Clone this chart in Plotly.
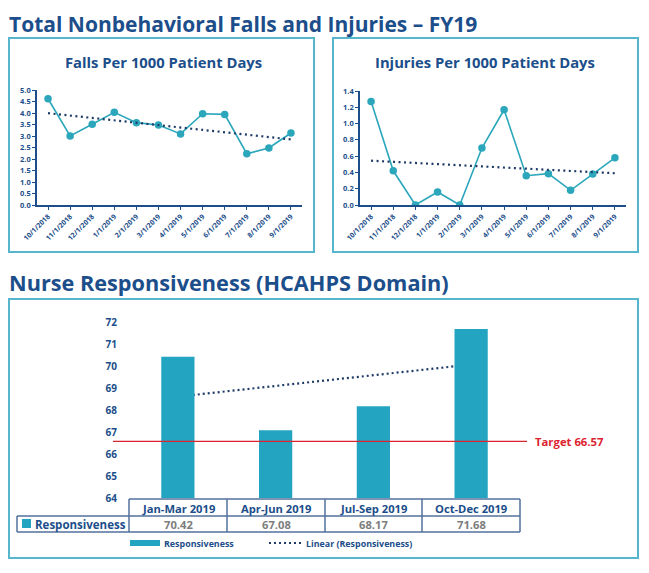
import numpy as np
import plotly.graph_objects as go

# ---------------- data ----------------
months = ["10/1/2018", "11/1/2018", "12/1/2018", "1/1/2019", "2/1/2019", "3/1/2019",
          "4/1/2019", "5/1/2019", "6/1/2019", "7/1/2019", "8/1/2019", "9/1/2019"]
falls = [4.62, 3.00, 3.51, 4.03, 3.58, 3.48, 3.09, 3.97, 3.94, 2.23, 2.48, 3.13]
injuries = [1.27, 0.42, 0.00, 0.16, 0.00, 0.70, 1.17, 0.36, 0.385, 0.18, 0.38, 0.58]
quarters = ["Jan-Mar 2019", "Apr-Jun 2019", "Jul-Sep 2019", "Oct-Dec 2019"]
responsiveness = [70.42, 67.08, 68.17, 71.68]
target = 66.57

falls_ticks = [0, 0.5, 1.0, 1.5, 2.0, 2.5, 3.0, 3.5, 4.0, 4.5, 5.0]
inj_ticks = [0, 0.2, 0.4, 0.6, 0.8, 1.0, 1.2, 1.4]
resp_ticks = [64, 65, 66, 67, 68, 69, 70, 71, 72]

# ---------------- style ----------------
OFF = 8                      # browser default body margin
W, H = 649 - 2 * OFF, 573 - 2 * OFF
FONT = "Open Sans"
DARK = "#1b4e8a"
TEAL = "#2ba6bb"
BAR = "#23a4c1"
BOX = "#56b7cc"
TREND = "#1e3a66"
RED = "#dc2330"
TBL = "#52709e"
GRAY = "#7d7d7d"


def px(x):
    return (x - OFF) / W


def py(y):
    return 1 - (y - OFF) / H


def trend(vals):
    xs = np.arange(len(vals))
    k, b = np.polyfit(xs, vals, 1)
    return list(k * xs + b)


fig = go.Figure()

# Falls
fig.add_trace(go.Scatter(x=months, y=falls, mode="lines+markers",
                         line=dict(color=TEAL, width=1.6),
                         marker=dict(size=7.5, color=TEAL),
                         xaxis="x", yaxis="y", showlegend=False))
fig.add_trace(go.Scatter(x=months, y=trend(falls), mode="lines",
                         line=dict(color=TREND, width=2.2, dash="2px,3.5px"),
                         xaxis="x", yaxis="y", showlegend=False))
# Injuries
fig.add_trace(go.Scatter(x=months, y=injuries, mode="lines+markers",
                         line=dict(color=TEAL, width=1.6),
                         marker=dict(size=7.5, color=TEAL),
                         xaxis="x2", yaxis="y2", showlegend=False))
fig.add_trace(go.Scatter(x=months, y=trend(injuries), mode="lines",
                         line=dict(color=TREND, width=2.2, dash="2px,3.5px"),
                         xaxis="x2", yaxis="y2", showlegend=False))
# Responsiveness bars
fig.add_trace(go.Bar(x=quarters, y=responsiveness, marker=dict(color=BAR, line=dict(width=0)),
                     xaxis="x3", yaxis="y3", showlegend=False))

tickfont_x = dict(family=FONT, size=7, color=DARK, weight="bold")
tickfont_y = dict(family=FONT, size=7.5, color=DARK, weight="bold")

common_x = dict(type="category", showgrid=False, showline=True, linecolor=DARK, linewidth=1.5,
                ticks="outside", ticklen=3, tickcolor=DARK, tickwidth=1.2, tickangle=-45,
                tickfont=tickfont_x, range=[-0.5, 11.5], zeroline=False, fixedrange=True,
                automargin=False)
common_y = dict(showgrid=False, showline=True, linecolor=DARK, linewidth=1.5,
                ticks="outside", ticklen=3, tickcolor=DARK, tickwidth=1.2,
                tickfont=tickfont_y, zeroline=False, fixedrange=True, automargin=False)

fig.update_layout(
    width=W, height=H,
    autosize=False,
    margin=dict(l=0, r=0, t=0, b=0, pad=0),
    paper_bgcolor="white", plot_bgcolor="rgba(0,0,0,0)",
    font=dict(family=FONT, color=DARK),
    bargap=0.66,
    xaxis=dict(common_x, domain=[px(37), px(302)], anchor="y"),
    yaxis=dict(common_y, domain=[py(205), py(90)], range=[0, 5], tickvals=falls_ticks,
               ticktext=[f"{v:.1f}" for v in falls_ticks], anchor="x"),
    xaxis2=dict(common_x, domain=[px(360), px(626)], anchor="y2"),
    yaxis2=dict(common_y, domain=[py(205), py(91)], range=[0, 1.4], tickvals=inj_ticks,
                ticktext=[f"{v:.1f}" for v in inj_ticks], anchor="x2"),
    xaxis3=dict(type="category", domain=[px(129), px(520)], anchor="y3", showgrid=False,
                showline=False, showticklabels=False, ticks="", range=[-0.5, 3.5], fixedrange=True,
                automargin=False),
    yaxis3=dict(domain=[py(498), py(322)], range=[64, 72], tickvals=resp_ticks, anchor="x3",
                showgrid=False, showline=False, zeroline=False, ticks="",
                ticklabelstandoff=11, automargin=False,
                tickfont=dict(family=FONT, size=10, color=DARK, weight="bold"), fixedrange=True),
)

shapes = []
ann = []

# Panel boxes
for (x0, y0, x1, y1) in [(9, 38, 314, 252), (333, 38, 638, 252), (9, 299, 638, 558)]:
    shapes.append(dict(type="rect", xref="paper", yref="paper", x0=px(x0), x1=px(x1),
                       y0=py(y1), y1=py(y0), line=dict(color=BOX, width=2), layer="below"))

# Bar trend line (behind bars) and target line
rt = trend(responsiveness)
shapes.append(dict(type="line", xref="x3", yref="y3", x0=0, x1=len(quarters) - 1, y0=rt[0], y1=rt[-1],
                   line=dict(color=TREND, width=2.2, dash="2px,3px"), layer="below"))
shapes.append(dict(type="line", xref="paper", yref="y3", x0=px(113), x1=px(527), y0=target, y1=target,
                   line=dict(color=RED, width=1.3)))

# Titles (top title anchored to top of the drawing area)
ann.append(dict(text="<b>Total Nonbehavioral Falls and Injuries – FY19</b>", x=px(7), y=1,
                xref="paper", yref="paper", xanchor="left", yanchor="top", showarrow=False,
                font=dict(family=FONT, size=21, color=DARK)))
ann.append(dict(text="<b>Nurse Responsiveness (HCAHPS Domain)</b>", x=px(7), y=py(283),
                xref="paper", yref="paper", xanchor="left", yanchor="middle", showarrow=False,
                font=dict(family=FONT, size=21.7, color=DARK)))
ann.append(dict(text="<b>Falls Per 1000 Patient Days</b>", x=px(163), y=py(62),
                xref="paper", yref="paper", xanchor="center", yanchor="middle", showarrow=False,
                font=dict(family=FONT, size=14.8, color=DARK)))
ann.append(dict(text="<b>Injuries Per 1000 Patient Days</b>", x=px(485), y=py(62),
                xref="paper", yref="paper", xanchor="center", yanchor="middle", showarrow=False,
                font=dict(family=FONT, size=14.8, color=DARK)))
ann.append(dict(text=f"<b>Target {target:.2f}</b>", x=px(533), y=target,
                xref="paper", yref="y3", xanchor="left", yanchor="middle", showarrow=False,
                font=dict(family=FONT, size=11.3, color=RED)))

# Data table
cols = [129, 227, 325, 422, 520]
r0, r1, r2 = 499, 516, 532
tl = dict(color=TBL, width=1.5)
shapes.append(dict(type="line", xref="paper", yref="paper", x0=px(cols[0]), x1=px(cols[-1]),
                   y0=py(r0), y1=py(r0), line=tl))
shapes.append(dict(type="line", xref="paper", yref="paper", x0=px(17), x1=px(cols[-1]),
                   y0=py(r1), y1=py(r1), line=tl))
shapes.append(dict(type="line", xref="paper", yref="paper", x0=px(17), x1=px(cols[-1]),
                   y0=py(r2), y1=py(r2), line=tl))
shapes.append(dict(type="line", xref="paper", yref="paper", x0=px(17), x1=px(17),
                   y0=py(r2), y1=py(r1), line=tl))
for c in cols:
    shapes.append(dict(type="line", xref="paper", yref="paper", x0=px(c), x1=px(c),
                       y0=py(r2), y1=py(r0), line=tl))
for i, (q, v) in enumerate(zip(quarters, responsiveness)):
    cx = (cols[i] + cols[i + 1]) / 2
    ann.append(dict(text=f"<b>{q}</b>", x=px(cx), y=py((r0 + r1) / 2 + 0.5), xref="paper", yref="paper",
                    showarrow=False, xanchor="center", yanchor="middle",
                    font=dict(family=FONT, size=11.2, color=DARK)))
    ann.append(dict(text=f"<b>{v:.2f}</b>", x=px(cx), y=py((r1 + r2) / 2 + 0.5), xref="paper", yref="paper",
                    showarrow=False, xanchor="center", yanchor="middle",
                    font=dict(family=FONT, size=11.2, color=GRAY)))
# legend key cell
shapes.append(dict(type="rect", xref="paper", yref="paper", x0=px(22), x1=px(31), y0=py(528), y1=py(519),
                   fillcolor=BAR, line=dict(width=0)))
ann.append(dict(text="<b>Responsiveness</b>", x=px(33), y=py(524.5), xref="paper", yref="paper",
                showarrow=False, xanchor="left", yanchor="middle",
                font=dict(family=FONT, size=11.5, color=DARK)))

# Legend below table
shapes.append(dict(type="rect", xref="paper", yref="paper", x0=px(130), x1=px(160), y0=py(546), y1=py(540),
                   fillcolor=BAR, line=dict(width=0)))
ann.append(dict(text="<b>Responsiveness</b>", x=px(162), y=py(543), xref="paper", yref="paper",
                showarrow=False, xanchor="left", yanchor="middle",
                font=dict(family=FONT, size=8.9, color=DARK)))
shapes.append(dict(type="line", xref="paper", yref="paper", x0=px(269), x1=px(301), y0=py(543), y1=py(543),
                   line=dict(color=TREND, width=2, dash="2px,3px")))
ann.append(dict(text="<b>Linear (Responsiveness)</b>", x=px(304), y=py(543), xref="paper", yref="paper",
                showarrow=False, xanchor="left", yanchor="middle",
                font=dict(family=FONT, size=8.9, color=DARK)))

fig.update_layout(shapes=shapes, annotations=ann)
fig.write_html("out.html")
